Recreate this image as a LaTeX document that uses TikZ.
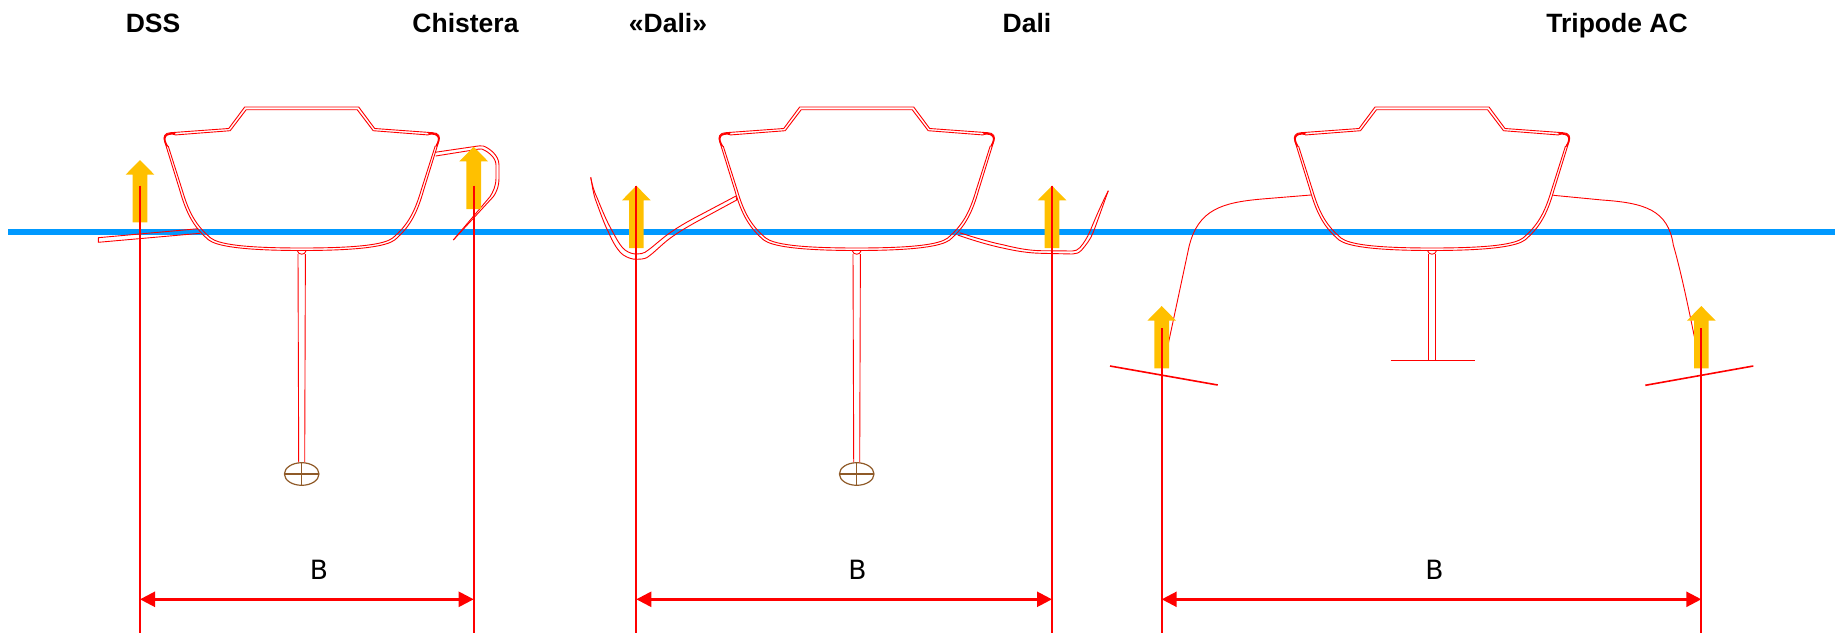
\documentclass[tikz,border=0pt]{standalone}
\usepackage{fontspec}
\setmainfont{Liberation Sans}
\newfontfamily\dimfont{DejaVu Sans}
\usetikzlibrary{arrows.meta}
\definecolor{foilred}{HTML}{FF0000}
\definecolor{sea}{HTML}{0099FF}
\definecolor{lift}{HTML}{FFC000}
\definecolor{bulbc}{HTML}{8F5A28}
\tikzset{
  hl/.style={draw=foilred,line width=0.9pt,line join=round},
  title/.style={font=\bfseries\fontsize{26.5}{30}\selectfont,text=black,inner sep=0pt,anchor=base},
  dimlabel/.style={font=\dimfont\fontsize{26.5}{30}\selectfont,text=black,inner sep=0pt},
  vline/.style={draw=foilred,line width=2pt},
  dimline/.style={draw=foilred,line width=2.4pt,{Triangle[length=15pt,width=15pt]}-{Triangle[length=15pt,width=15pt]},shorten <=0pt,shorten >=0pt},
  hullpic/.pic={
    % outer contour
    \draw[hl] (-57,107) -- (57,107) -- (73,128.5) -- (131,132.7)
      .. controls (137,132.7) and (139,137) .. (137,141.5) -- (122,190)
      .. controls (115,215) and (107,228) .. (93,240)
      .. controls (85,246) and (60,250.5) .. (0,250.5)
      .. controls (-60,250.5) and (-85,246) .. (-93,240)
      .. controls (-107,228) and (-115,215) .. (-122,190) -- (-137,141.5)
      .. controls (-139,137) and (-137,132.7) .. (-131,132.7)
      -- (-73,128.5) -- (-57,107);
    % inner contour: deck
    \draw[hl] (-127,135) -- (-71.5,130.7) -- (-55.5,109.7) -- (55.5,109.7) -- (71.5,130.7) -- (127,135);
    % inner contour: hull
    \draw[hl] (133.5,146) -- (119.5,190)
      .. controls (112.5,214) and (105,226) .. (91,238)
      .. controls (83,244) and (60,248) .. (0,248)
      .. controls (-60,248) and (-83,244) .. (-91,238)
      .. controls (-105,226) and (-112.5,214) .. (-119.5,190) -- (-133.5,146);
    % gunwale rounds
    \draw[foilred,line width=1.7pt,line cap=round] (-127,134) .. controls (-137,132.6) and (-139.5,138) .. (-134.5,146);
    \draw[foilred,line width=1.7pt,line cap=round] (127,134) .. controls (137,132.6) and (139.5,138) .. (134.5,146);
    \draw[hl] (-4.5,250.5) .. controls (-3.5,255.5) and (3.5,255.5) .. (4.5,250.5);
  },
  bulbkeel/.pic={
    \draw[hl] (-3.7,254) -- (-3,462.7);
    \draw[hl] (3.7,254) -- (3,462.7);
    \draw[bulbc,line width=1.2pt] (0,474) ellipse[x radius=17.3pt,y radius=11.3pt];
    \draw[bulbc,line width=1.2pt] (-17.3,474) -- (17.3,474) (0,462.7) -- (0,485.3);
  },
  liftarrow/.pic={
    \fill[lift] (0,0) -- (14.3,14.6) -- (7.3,14.6) -- (7.3,62.4) -- (-7.3,62.4) -- (-7.3,14.6) -- (-14.3,14.6) -- cycle;
  }
}
\begin{document}
\begin{tikzpicture}[x=1pt,y=-1pt]
\useasboundingbox (0,0) rectangle (1835,635);
% sea level
\coordinate (seaL) at (8,231.7);
\coordinate (seaR) at (1835,231.7);
\draw[sea,line width=6pt] (seaL) -- (seaR);
% hulls
\pic at (301.7,0) {hullpic};
\pic at (301.7,0) {bulbkeel};
\pic at (856.7,0) {hullpic};
\pic at (856.7,0) {bulbkeel};
\pic at (1432,0) {hullpic};
% tripod keel
\draw[hl] (1428.3,254) -- (1428.3,360);
\draw[hl] (1435.7,254) -- (1435.7,360);
\draw[hl] (1390.7,360) -- (1475.3,360);
% DSS foil
\draw[hl] (198.3,228.7) -- (98.3,237.7) -- (98.3,242.3) -- (200,233.3);
% Chistera
\draw[hl] (435,152.3) -- (473.3,146.7) .. controls (478,146) and (481,145.5) .. (483.3,146)
  .. controls (489,148) and (499,155) .. (499,165) -- (499,178)
  .. controls (499,187) and (496,193) .. (493.3,196.7) -- (453.3,240);
\draw[hl] (435.7,156) -- (473.3,150) .. controls (477,149.3) and (480,148.7) .. (481.7,149)
  .. controls (487,151) and (496,157) .. (496,165) -- (496,178)
  .. controls (496,186) and (493,192) .. (490,196.7) -- (453.3,240);
% Dali left foil
\draw[hl] (590.7,177.3) .. controls (592,184) and (593,192) .. (595,198.3)
  .. controls (600,212) and (605,226) .. (608.3,231.7)
  .. controls (613,243) and (618,251) .. (623.3,255)
  .. controls (628,258) and (632,259.3) .. (636.7,259.3)
  .. controls (640,259.3) and (644,259) .. (646.7,257.7)
  .. controls (654,253) and (661,245) .. (670,238.3)
  .. controls (680,231) and (689,226) .. (696.7,221.7) -- (736.7,200);
\draw[hl] (590.7,177.3) .. controls (592,184) and (594,192) .. (597.3,198.3)
  .. controls (602,210) and (607,222) .. (611.7,230)
  .. controls (616,238) and (620,246) .. (625,250)
  .. controls (629,253) and (633,254) .. (636.7,254)
  .. controls (640,254) and (643,253.5) .. (645,252.3)
  .. controls (653,247) and (660,240) .. (668.3,234)
  .. controls (678,227) and (687,222) .. (695,217.7) -- (736,196);
\draw[hl] (736.7,200) -- (736,196);
% Dali right foil
\draw[hl] (957.7,235) .. controls (972,240) and (988,245) .. (1004,248.3)
  .. controls (1016,251) and (1028,253) .. (1041,253.3) -- (1072.4,254)
  .. controls (1076,254) and (1079,253) .. (1081.7,250)
  .. controls (1086,245) and (1090,240) .. (1092.8,233.3)
  .. controls (1098,220) and (1103,205) .. (1108.3,190.7);
\draw[hl] (959.6,232.7) .. controls (973,237) and (989,242) .. (1004,245)
  .. controls (1016,248) and (1028,250.5) .. (1041,250.7) -- (1072.4,251)
  .. controls (1075,251) and (1078,250) .. (1079.8,247.7)
  .. controls (1084,243) and (1087,238) .. (1089.8,231.7)
  .. controls (1095,219) and (1101,205) .. (1108.3,190.7);
% Tripod struts and foils
\draw[hl] (1311,195) -- (1262,199)
  .. controls (1222,202.5) and (1198,209.5) .. (1189,246.7)
  -- (1168,345);
\draw[hl] (1553.3,195.3) -- (1602,200)
  .. controls (1645,203) and (1668,210) .. (1673.3,245)
  .. controls (1680,268) and (1688,305) .. (1696,345);
\draw[foilred,line width=1.6pt] (1110,366) -- (1217.7,385);
\draw[foilred,line width=1.6pt] (1645.3,385.3) -- (1753.3,366);
% lift arrows
\pic at (140,160) {liftarrow};
\pic at (473.7,146.7) {liftarrow};
\pic at (636.3,185.7) {liftarrow};
\pic at (1052,185.7) {liftarrow};
\pic at (1161.7,306) {liftarrow};
\pic at (1701.3,306) {liftarrow};
% verticals
\coordinate (t1) at (140,185.7);     \coordinate (b1) at (140,633);
\coordinate (t2) at (473.7,185.7);   \coordinate (b2) at (473.7,633);
\coordinate (t3) at (636.3,185.7);   \coordinate (b3) at (636.3,633);
\coordinate (t4) at (1052,185.7);    \coordinate (b4) at (1052,633);
\coordinate (t5) at (1161.7,328.3);  \coordinate (b5) at (1161.7,633);
\coordinate (t6) at (1701.3,328.3);  \coordinate (b6) at (1701.3,633);
\foreach \i in {1,...,6} \draw[vline] (t\i) -- (b\i);
% dimensions
\coordinate (d1) at (140,599.3);    \coordinate (d2) at (473.7,599.3);
\coordinate (d3) at (636.3,599.3);  \coordinate (d4) at (1052,599.3);
\coordinate (d5) at (1161.7,599.3); \coordinate (d6) at (1701.3,599.3);
\draw[dimline] (d1) -- (d2);
\draw[dimline] (d3) -- (d4);
\draw[dimline] (d5) -- (d6);
\node[dimlabel] (B1) at (319,570) {B};
\node[dimlabel] (B2) at (857.5,570) {B};
\node[dimlabel] (B3) at (1434.5,570) {B};
% titles
\node[title] (tDSS) at (153,32.8) {DSS};
\node[title] (tChi) at (465.5,32.8) {Chistera};
\node[title] (tDaQ) at (668,32.8) {«Dali»};
\node[title] (tDal) at (1027,32.8) {Dali};
\node[title] (tTri) at (1617,32.8) {Tripode AC};
\end{tikzpicture}
\end{document}
